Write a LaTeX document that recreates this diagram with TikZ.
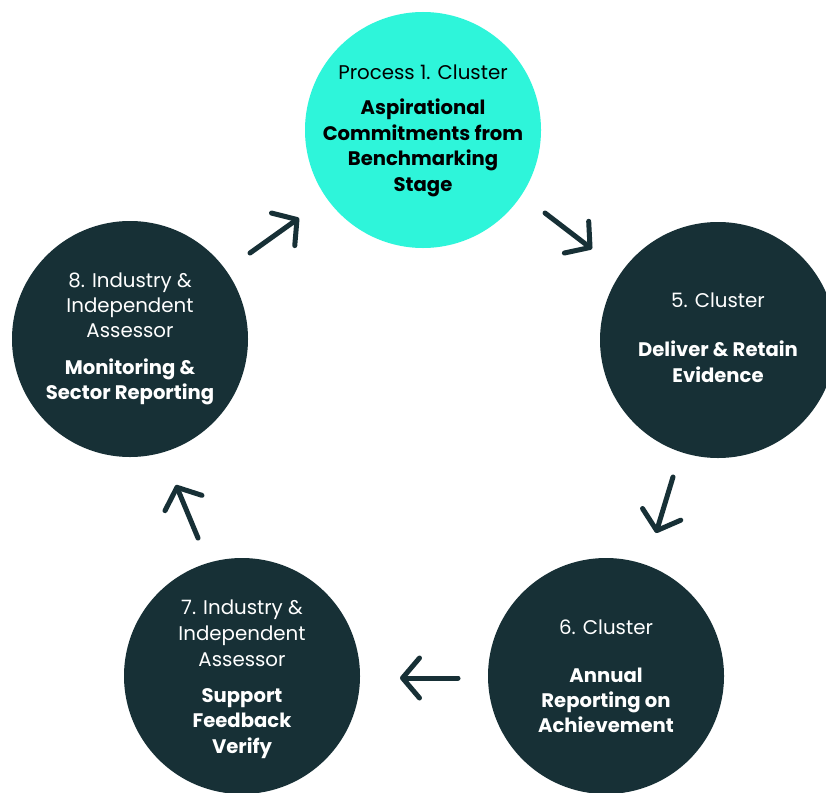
\documentclass[tikz,border=0pt]{standalone}
\usepackage{fontspec}
\setmainfont{Poppins}
\usetikzlibrary{arrows.meta}
\definecolor{mint}{RGB}{46,245,218}
\definecolor{darkslate}{RGB}{23,48,54}
\begin{document}
\begin{tikzpicture}[x=1pt,y=-1pt,
  circ/.style={circle, fill=darkslate, minimum size=236pt, inner sep=0pt},
  reg/.style={anchor=base, inner sep=0pt, font=\fontsize{19.8}{22}\selectfont, text=white},
  bld/.style={anchor=base, inner sep=0pt, font=\fontsize{19.6}{22}\selectfont\bfseries, text=white},
  flow/.style={draw=darkslate, line width=5pt, line cap=round, line join=round,
    -{Straight Barb[length=17pt, width=40pt, line cap=round, line join=round]}}]
\useasboundingbox (0,0) rectangle (826,792);
\clip (0,0) rectangle (826,792);
\fill[white] (0,0) rectangle (826,792);
% circles
\node[circ, fill=mint] (c1) at (423,130) {};
\node[circ] (c5) at (718,340) {};
\node[circ] (c6) at (606,676) {};
\node[circ] (c7) at (242,676) {};
\node[circ] (c8) at (130,339) {};
% top
\node[reg, text=black] (t1a) at (423,79) {Process 1. Cluster};
\node[bld, text=black] (t1b) at (423,114) {Aspirational};
\node[bld, text=black] (t1c) at (423,140) {Commitments from};
\node[bld, text=black] (t1d) at (423,165) {Benchmarking};
\node[bld, text=black] (t1e) at (423,191) {Stage};
% right
\node[reg] (t5a) at (718,307) {5. Cluster};
\node[bld] (t5b) at (718,356) {Deliver \& Retain};
\node[bld] (t5c) at (718,382) {Evidence};
% bottom right
\node[reg] (t6a) at (606,634) {6. Cluster};
\node[bld] (t6b) at (606,682) {Annual};
\node[bld] (t6c) at (606,707) {Reporting on};
\node[bld] (t6d) at (606,732) {Achievement};
% bottom left
\node[reg] (t7a) at (242,614) {7. Industry \&};
\node[reg] (t7b) at (242,640) {Independent};
\node[reg] (t7c) at (242,666) {Assessor};
\node[bld] (t7d) at (242,702) {Support};
\node[bld] (t7e) at (242,727) {Feedback};
\node[bld] (t7f) at (242,753) {Verify};
% left
\node[reg] (t8a) at (130,287) {8. Industry \&};
\node[reg] (t8b) at (130,312) {Independent};
\node[reg] (t8c) at (130,337) {Assessor};
\node[bld] (t8d) at (130,374) {Monitoring \&};
\node[bld] (t8e) at (130,399) {Sector Reporting};
% arrows
\coordinate (a1s) at (250,253); \coordinate (a1e) at (299,218);
\coordinate (a2s) at (545,213); \coordinate (a2e) at (592,249);
\coordinate (a3s) at (673,477); \coordinate (a3e) at (656,533);
\coordinate (a4s) at (458,678); \coordinate (a4e) at (400,678);
\coordinate (a5s) at (198,538); \coordinate (a5e) at (176,485);
\draw[flow] (a1s) -- (a1e);
\draw[flow] (a2s) -- (a2e);
\draw[flow] (a3s) -- (a3e);
\draw[flow] (a4s) -- (a4e);
\draw[flow] (a5s) -- (a5e);
\end{tikzpicture}
\end{document}
